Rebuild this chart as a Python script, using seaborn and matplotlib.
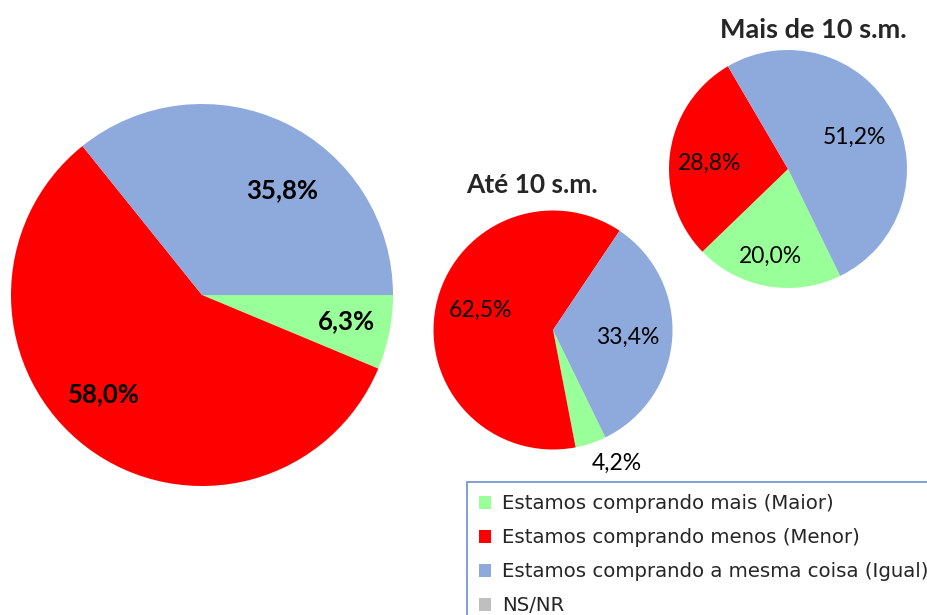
import numpy as np
import matplotlib.pyplot as plt
import seaborn as sns
from matplotlib.patches import Patch

# Data
categories = ["Estamos comprando mais (Maior)",
              "Estamos comprando menos (Menor)",
              "Estamos comprando a mesma coisa (Igual)",
              "NS/NR"]
total_vals = [6.3, 58.0, 35.8]
ate10_vals = [4.2, 62.5, 33.4]
mais10_vals = [20.0, 28.8, 51.2]
titles = ["", "Até 10 s.m.", "Mais de 10 s.m."]

colors = ["#99FF99", "#FF0000", "#8EA9DB", "#BFBFBF"]

sns.set_style("white")
plt.rcParams['font.family'] = ['Lato', 'DejaVu Sans']

W, H = 927, 615
fig = plt.figure(figsize=(W / 100, H / 100), dpi=100)
ax = fig.add_axes([0, 0, 1, 1])


def fmt(v):
    return f"{v:.1f}%".replace(".", ",")


# layout: pixel centre, radius, start angle, label (angle shift, distance) per wedge
pies = [
    (total_vals, (202, 295), 191, 0, [(1, 0.77), (-7.7, 0.73), (-11.7, 0.69)], True),
    (ate10_vals, (553, 330), 119.5, -64, [(7, 1.24), (-3.8, 0.63), (-2, 0.63)], False),
    (mais10_vals, (788, 169), 119, -64, [(-1.6, 0.75), (3.4, 0.66), (-2.7, 0.62)], False),
]

for (vals, (cx, cy), r, start, lab, bold) in pies:
    cy = H - cy
    wedges, _ = ax.pie(vals, colors=colors[:3], startangle=start, counterclock=False,
                       center=(cx, cy), radius=r, frame=True,
                       wedgeprops=dict(linewidth=0))
    for w, v, (da, d) in zip(wedges, vals, lab):
        ang = np.deg2rad((w.theta1 + w.theta2) / 2 + da)
        tx = cx + r * d * np.cos(ang)
        ty = cy + r * d * np.sin(ang)
        if bold:
            ax.text(tx, ty, fmt(v), ha="center", va="center", fontsize=18.5,
                    fontweight="bold", color="black")
        else:
            ax.text(tx, ty, fmt(v), ha="center", va="center", fontsize=16.5,
                    color="black")

# titles
ax.text(532, H - 185, titles[1], ha="center", va="center", fontsize=19, fontweight="bold")
ax.text(813, H - 30, titles[2], ha="center", va="center", fontsize=19.5, fontweight="bold")

ax.set_xlim(0, W)
ax.set_ylim(0, H)
ax.set_aspect("equal")
ax.axis("off")

handles = [Patch(facecolor=c, edgecolor="none") for c in colors]
leg = fig.legend(handles, categories, loc="upper left",
                 bbox_to_anchor=(467 / W, 1 - 482 / H), frameon=True, fancybox=False,
                 edgecolor="#4472C4", prop={"family": "DejaVu Sans", "size": 14.2},
                 handlelength=0.6, handleheight=0.6,
                 handletextpad=0.55, labelspacing=0.76, borderpad=0.62, borderaxespad=0)
leg.get_frame().set_linewidth(1.2)

fig.savefig("out.png", dpi=100)
